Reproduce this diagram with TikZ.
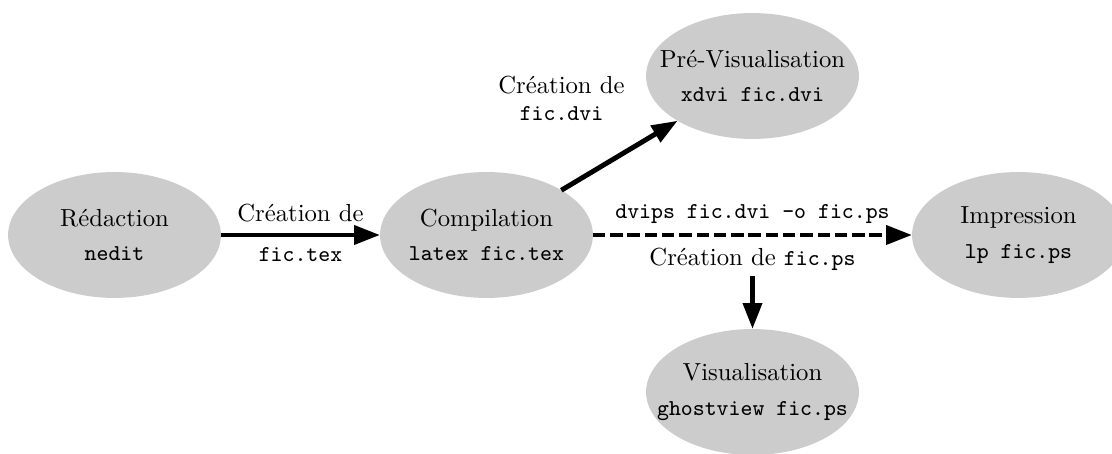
\documentclass[tikz,border=0pt]{standalone}
\usetikzlibrary{arrows.meta,shapes.geometric}
% commands and file names in typewriter type
\newcommand\cmd[1]{{\fontsize{9.2}{11}\selectfont\ttfamily #1}}
\begin{document}
\begin{tikzpicture}[x=0.405pt,y=-0.405pt,
  oval/.style={ellipse, fill=black!20, minimum width=86.2pt, minimum height=51pt, inner sep=0pt, outer sep=0pt},
  ovaltext/.style={align=center, inner sep=0pt},
  flow/.style={line width=2pt, -{Triangle[length=10.5pt,width=7.5pt]}},
  lbl/.style={inner sep=0pt}]
\useasboundingbox (0,0) rectangle (1112,454);

% the five steps
\node[oval] (red)  at (114.5,235) {};
\node[oval] (comp) at (486.5,235) {};
\node[oval] (prev) at (752.5,76)  {};
\node[oval] (imp)  at (1018.5,235) {};
\node[oval] (vis)  at (752.5,392) {};

\node[ovaltext] (red-t)  at (red)  {Rédaction\\[2pt]\cmd{nedit}};
\node[ovaltext] (comp-t) at (comp) {Compilation\\[2pt]\cmd{latex fic.tex}};
\node[ovaltext] (prev-t) at (prev) {Pré-Visualisation\\[2pt]\cmd{xdvi fic.dvi}};
\node[ovaltext] (imp-t)  at (imp)  {Impression\\[2pt]\cmd{lp fic.ps}};
\node[ovaltext] (vis-t)  at (vis)  {Visualisation\\[2pt]\cmd{ghostview fic.ps}};

% editing -> compiling
\draw[flow] (red) -- (comp)
  node[midway, lbl, above=4.2pt] (l1a) {Création de}
  node[midway, lbl, below=4pt] (l1b) {\cmd{fic.tex}};

% compiling -> previewing
\draw[flow] (comp) -- (prev);
\node[lbl, align=center, anchor=south] (l2) at (561.5,121) {Création de\\[-1.3pt]\cmd{fic.dvi}};

% compiling -> printing, through dvips
\draw[flow, dash pattern=on 5pt off 2pt] (comp) -- (imp)
  node[midway, lbl, above=3.5pt] (l3a) {\cmd{dvips fic.dvi -o fic.ps}}
  node[midway, lbl, below=4.5pt] (l3b) {Création de \cmd{fic.ps}};

% the PostScript file -> viewing
\draw[flow, shorten <=1pt] (l3b) -- (vis);
\end{tikzpicture}
\end{document}
